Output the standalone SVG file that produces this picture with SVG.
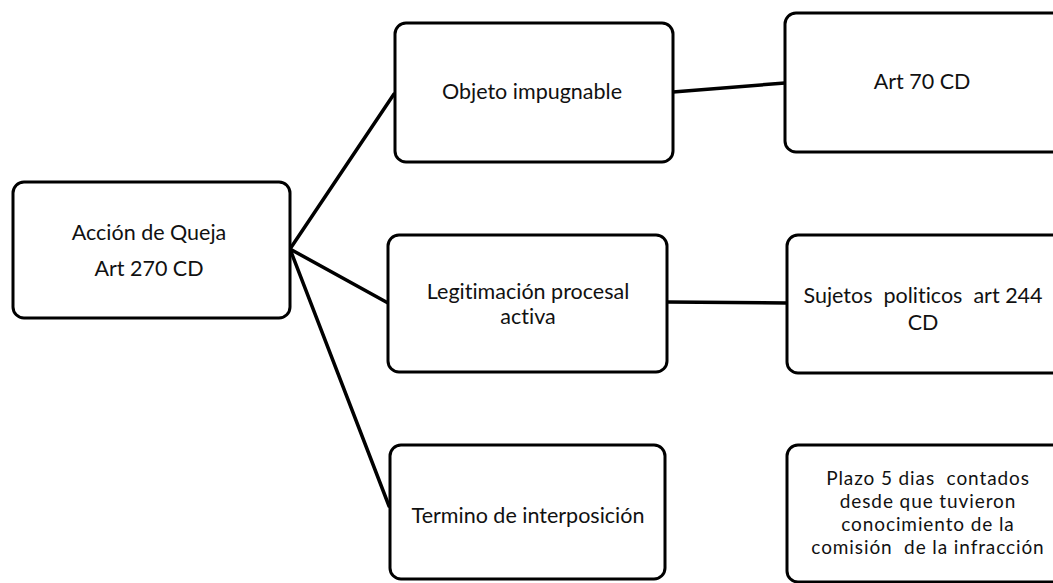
<svg xmlns="http://www.w3.org/2000/svg" width="1053" height="583" viewBox="0 0 1053 583">
  <style>
    .box { fill: #ffffff; stroke: #000000; stroke-width: 3; }
    .lbl { font-family: Lato, "Liberation Sans", sans-serif; font-size: 21.5px; fill: #111111; text-anchor: middle; white-space: pre; font-variant-ligatures: none; }
    .small { font-size: 19px; letter-spacing: 0.9px; }
    .link { stroke: #000000; stroke-width: 3.5; fill: none; stroke-linecap: round; }
  </style>
  <rect width="1053" height="583" fill="#ffffff"/>

  <!-- connectors -->
  <g id="connectors">
    <line class="link" x1="290" y1="249" x2="394" y2="94"/>
    <line class="link" x1="290" y1="249" x2="388" y2="303"/>
    <line class="link" x1="290" y1="249" x2="389" y2="506"/>
    <line class="link" x1="673" y1="92" x2="785" y2="83"/>
    <line class="link" x1="667" y1="302" x2="787" y2="303"/>
  </g>

  <!-- root -->
  <g id="accion-queja">
    <rect class="box" x="13" y="182" width="277" height="136" rx="11"/>
    <text class="lbl" x="149" y="240">Acción de Queja</text>
    <text class="lbl" x="149" y="276">Art 270 CD</text>
  </g>

  <!-- middle column -->
  <g id="objeto-impugnable">
    <rect class="box" x="395" y="23" width="278" height="139" rx="11"/>
    <text class="lbl" x="532" y="99">Objeto impugnable</text>
  </g>
  <g id="legitimacion">
    <rect class="box" x="388" y="235" width="279" height="137" rx="11"/>
    <text class="lbl" x="528" y="299">Legitimación procesal</text>
    <text class="lbl" x="528" y="324">activa</text>
  </g>
  <g id="termino">
    <rect class="box" x="390" y="445" width="275" height="134" rx="11"/>
    <text class="lbl" x="528" y="523">Termino de interposición</text>
  </g>

  <!-- right column -->
  <g id="art-70">
    <rect class="box" x="785" y="13" width="290" height="139" rx="11"/>
    <text class="lbl" x="922" y="89">Art 70 CD</text>
  </g>
  <g id="sujetos">
    <rect class="box" x="787" y="235" width="290" height="138" rx="11"/>
    <text class="lbl" x="923" y="303">Sujetos  politicos  art 244</text>
    <text class="lbl" x="923" y="330">CD</text>
  </g>
  <g id="plazo">
    <rect class="box" x="787" y="445" width="290" height="137" rx="11"/>
    <text class="lbl small" x="928" y="485">Plazo 5 dias  contados</text>
    <text class="lbl small" x="928" y="508">desde que tuvieron</text>
    <text class="lbl small" x="928" y="531">conocimiento de la</text>
    <text class="lbl small" x="928" y="554">comisión  de la infracción</text>
  </g>
</svg>
